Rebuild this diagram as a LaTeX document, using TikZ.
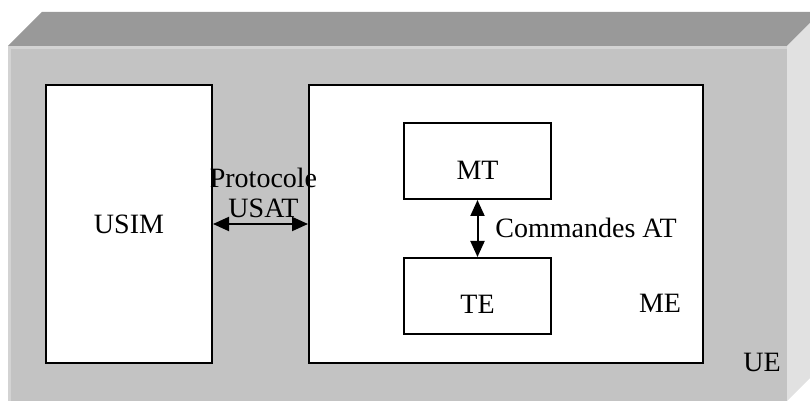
\documentclass[tikz,border=0pt]{standalone}
\usepackage{fontspec}
\setmainfont{Liberation Serif}
\usetikzlibrary{arrows.meta, positioning}
\definecolor{topgray}{HTML}{999999}
\definecolor{frontgray}{HTML}{C3C3C3}
\definecolor{sidegray}{HTML}{E1E1E1}
\definecolor{edgegray}{HTML}{D3D3D3}

\begin{document}
\begin{tikzpicture}[
    x=0.5pt, y=-0.5pt,
    every node/.style={font=\fontsize{14}{15}\selectfont},
    blk/.style={draw=black, line width=1pt, fill=white, rectangle, inner sep=0pt},
    link/.style={line width=1pt, {Triangle[length=8pt,width=7pt]}-{Triangle[length=8pt,width=7pt]}}
]
\useasboundingbox (0,0) rectangle (810,401);

% UE box (3D look)
\fill[topgray] (8,46) -- (42,12) -- (821,12) -- (787,46) -- cycle;
\fill[sidegray] (787,46) -- (821,12) -- (821,367) -- (787,401) -- cycle;
\fill[frontgray] (8,46) rectangle (787,401);
\draw[edgegray, line width=1.5pt] (9.5,401) -- (9.5,47.5) -- (787,47.5);

% Blocks
\node[blk, minimum width=83pt, minimum height=139pt] (usim) at (129,224) {};
\node[blk, minimum width=197pt, minimum height=139pt] (me) at (506,224) {};
\node[blk, minimum width=73.5pt, minimum height=38pt] (mt) at (477.5,161) {};
\node[blk, minimum width=73.5pt, minimum height=38pt, below=28.5pt of mt] (te) {};

% Texts
\node (usimtxt) at (usim.center) {USIM};
\node (mttxt) at ([yshift=-4.5pt]mt.center) {MT};
\node (tetxt) at ([yshift=-4pt]te.center) {TE};
\node (metxt) at (660,303) {ME};
\node (uetxt) at (762,362) {UE};
\node[align=center, anchor=south, inner sep=0pt] (proto) at (263.5,218) {Protocole\\USAT};
\node[anchor=west, inner sep=0pt] (cmd) at (495,228) {Commandes AT};

% Connections
\draw[link] (usim.east) -- (me.west);
\draw[link] (mt.south) -- (te.north);

\end{tikzpicture}
\end{document}
